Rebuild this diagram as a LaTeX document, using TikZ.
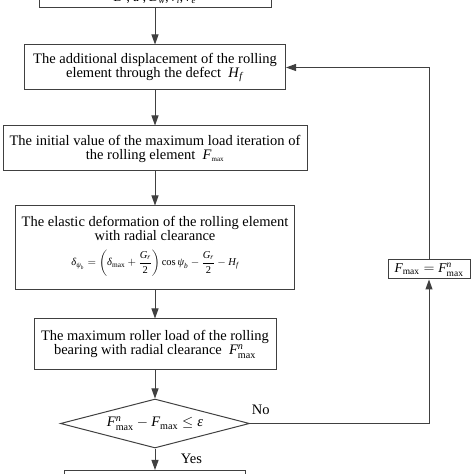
\documentclass[tikz,border=0pt]{standalone}
\usepackage{fontspec}
\setmainfont{Liberation Serif}
\usepackage{amsmath}
\usetikzlibrary{arrows.meta,shapes.geometric}
\newcommand\mi[1]{\textnormal{\itshape #1}}
\newcommand\ru[1]{\textnormal{#1}}
\definecolor{linec}{gray}{0.25}
\begin{document}
\begin{tikzpicture}[x=1pt,y=1pt,
  box/.style={draw=linec, line width=1pt, rectangle, inner sep=0pt, align=center,
    font=\fontsize{14.5}{14}\selectfont},
  txt/.style={inner sep=0pt, align=center, font=\fontsize{14.5}{14}\selectfont},
  arr/.style={draw=linec, line width=1pt, -{Triangle[length=10pt,width=7pt]}},
  lbl/.style={font=\fontsize{14.5}{14}\selectfont}]
\useasboundingbox (0,0) rectangle (474,474);
\clip (0,0) rectangle (474,474);
\node[box, minimum width=232, minimum height=20, font=\fontsize{13}{14}\selectfont] (top) at (155,476)
  {\mi{D} , \mi{d} , \mi{D}\textsubscript{\mi{w}}, \mi{r}\textsubscript{\mi{i}}, \mi{r}\textsubscript{\mi{e}}};
\node[box, minimum width=261, minimum height=45] (b2) at (155,406.5)
  {The additional displacement of the rolling\\element through the defect~ \mi{H}\textsubscript{\mi{f}}};
\node[box, minimum width=304, minimum height=45] (b3) at (155,325.5)
  {The initial value of the maximum load iteration of\\the rolling element~ \mi{F}\textsubscript{\scriptsize max}};
\node[box, minimum width=279, minimum height=84] (b4) at (155,226) {};
\node[txt] (b4t) at (155,245.5)
  {The elastic deformation of the rolling element\\with radial clearance};
\node[txt, font=\fontsize{10.5}{12}\selectfont] (b4f) at (155,211)
  {$\displaystyle \mi{δ}_{\mi{ψ}_{\mi{b}}} = \left(\mi{δ}_{\ru{max}} + \frac{\mi{G}_{\mi{r}}}{\ru{2}}\right)\ru{cos}\,\mi{ψ}_{\mi{b}} - \frac{\mi{G}_{\mi{r}}}{\ru{2}} - \mi{H}_{\mi{f}}$};
\node[box, minimum width=242, minimum height=51] (b5) at (155,129.5)
  {The maximum roller load of the rolling\\bearing with radial clearance~ $\mi{F}^{\mi{n}}_{\ru{max}}$};
\node[draw=linec, line width=1pt, diamond, aspect=3.86, inner sep=0pt,
  minimum width=189, minimum height=49, font=\fontsize{14.5}{14}\selectfont] (dec) at (155,50.5)
  {$\mi{F}^{\mi{n}}_{\ru{max}} - \mi{F}_{\ru{max}} \leq \mi{ε}$};
\node[box, minimum width=181, minimum height=30, anchor=north] (end) at (155,4) {};
\node[box, minimum width=82, minimum height=19, font=\fontsize{13.5}{14}\selectfont] (rb) at (429,204.5)
  {$\mi{F}_{\ru{max}} = \mi{F}^{\mi{n}}_{\ru{max}}$};
\draw[arr] (top) -- (b2);
\draw[arr] (b2) -- (b3);
\draw[arr] (b3) -- (b4);
\draw[arr] (b4) -- (b5);
\draw[arr] (b5) -- (dec);
\draw[arr] (dec) -- node[lbl, right=22pt] (yes) {Yes} (end);
\draw[arr] (dec.east) -- node[lbl, pos=0.06, above=5pt] (no) {No} (dec.east -| rb) -- (rb.south);
\draw[arr] (rb.north) -- (rb.north |- b2.east) -- (b2.east);
\end{tikzpicture}
\end{document}
